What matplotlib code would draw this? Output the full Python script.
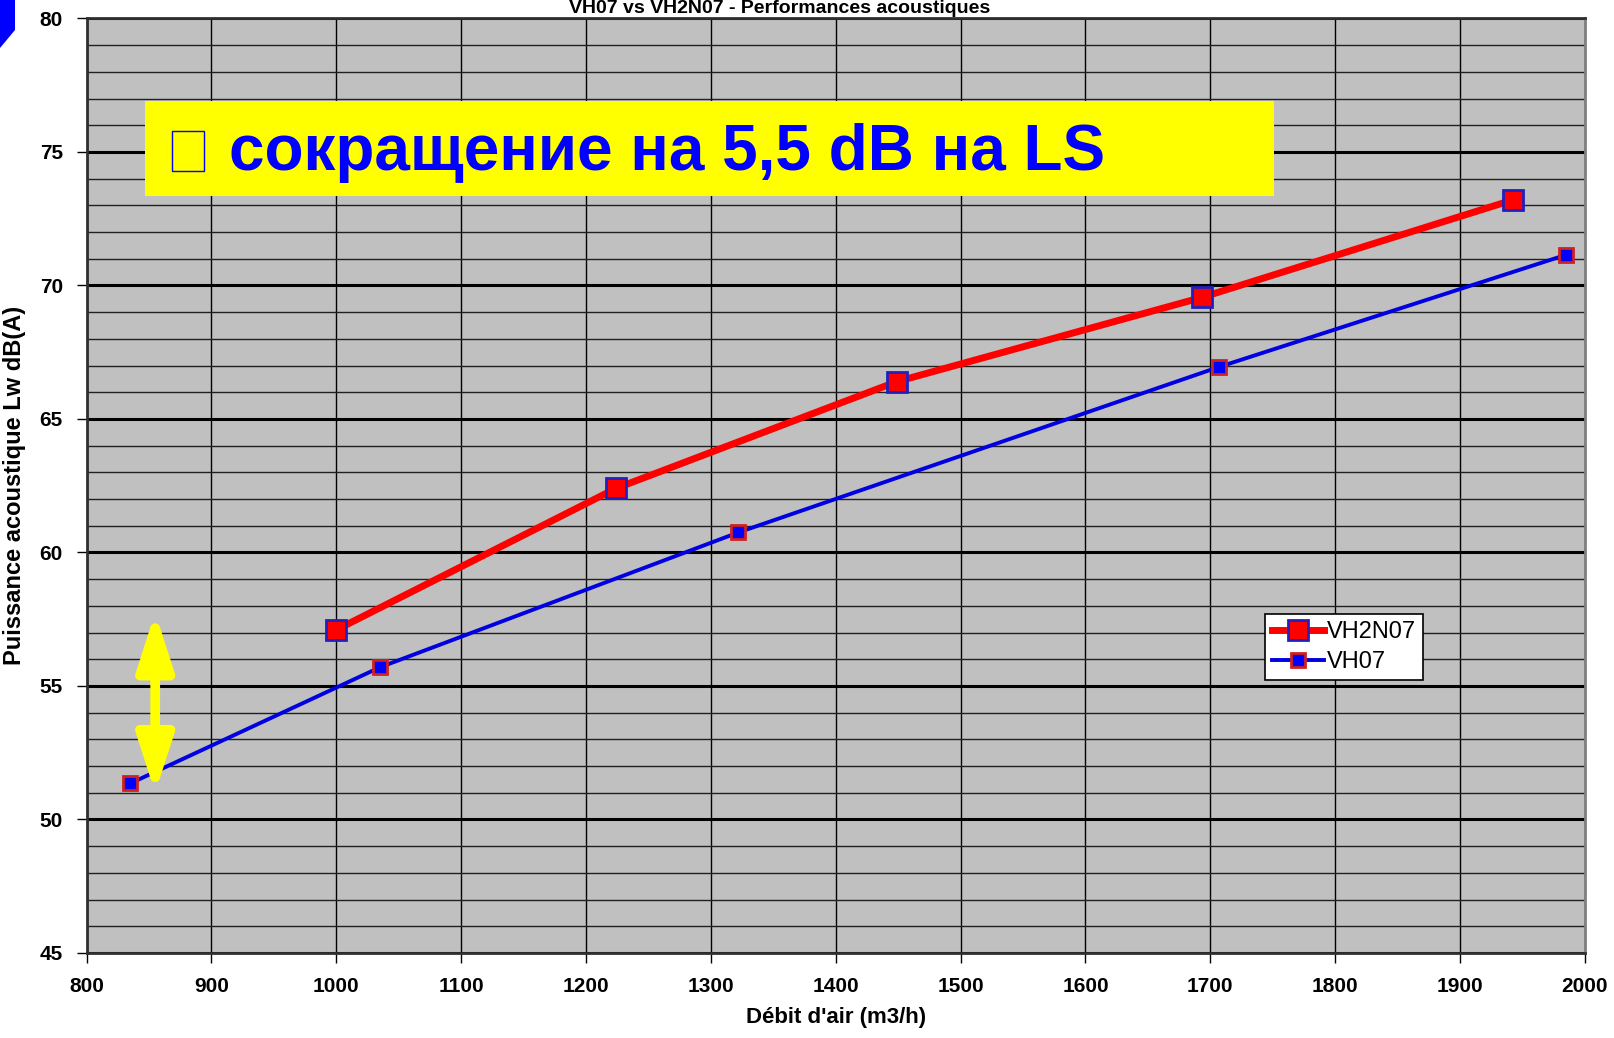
import matplotlib.pyplot as plt
from matplotlib.patches import Rectangle, Polygon
from matplotlib.ticker import MultipleLocator

# values
vh2n07_x = [1000, 1224, 1449, 1693, 1942]
vh2n07_y = [57.1, 62.4, 66.4, 69.55, 73.2]
vh07_x = [835, 1035, 1322, 1707, 1985]
vh07_y = [51.35, 55.7, 60.75, 66.95, 71.15]

x_ticks = list(range(800, 2001, 100))
y_ticks = [45, 50, 55, 60, 65, 70, 75, 80]

plt.rcParams['font.family'] = ['Liberation Sans', 'DejaVu Sans']

fig = plt.figure(figsize=(16.14, 10.38), dpi=100)
ax = fig.add_axes([0.0536, 0.0819, 0.9284, 0.9003])
ax.set_facecolor('#c0c0c0')

ax.set_xlim(800, 2000)
ax.set_ylim(45, 80)
ax.set_xticks(x_ticks)
ax.set_yticks(y_ticks)
ax.yaxis.set_minor_locator(MultipleLocator(1))

ax.grid(which='major', axis='y', color='black', lw=2.2, zorder=1)
ax.grid(which='minor', axis='y', color='#202020', lw=1.0, zorder=1)
ax.grid(which='major', axis='x', color='black', lw=1.0, zorder=1)
ax.set_axisbelow(True)

ax.tick_params(axis='both', which='major', length=7, width=1, direction='out',
               labelsize=15, pad=10)
ax.tick_params(axis='y', which='minor', length=0)
for lbl in ax.get_xticklabels() + ax.get_yticklabels():
    lbl.set_fontweight('bold')

for side in ['top', 'bottom', 'left']:
    ax.spines[side].set_color('#303030')
    ax.spines[side].set_linewidth(2)
ax.spines['right'].set_color('#808080')
ax.spines['right'].set_linewidth(2)

ax.plot(vh2n07_x, vh2n07_y, color='#ff0000', lw=5, marker='s', ms=15,
        mfc='#ff0000', mec='#2020c0', mew=2, label='VH2N07', zorder=4)
ax.plot(vh07_x, vh07_y, color='#0000e0', lw=2.8, marker='s', ms=10,
        mfc='#0000ff', mec='#d02020', mew=2, label='VH07', zorder=3)

leg = ax.legend(loc='upper left', bbox_to_anchor=(0.7865, 0.363), fontsize=17,
                frameon=True, fancybox=False, edgecolor='black', framealpha=1,
                handlelength=2.2, borderpad=0.3, labelspacing=0.35,
                handletextpad=0.1, borderaxespad=0)
leg.get_frame().set_linewidth(1.2)

ax.set_xlabel("Débit d'air (m3/h)", fontsize=16, fontweight='bold', labelpad=8)
ax.set_ylabel('Puissance acoustique Lw dB(A)', fontsize=17, fontweight='bold',
              labelpad=10)

fig.text(0.483, 1.0, 'VH07 vs VH2N07 - Performances acoustiques',
         ha='center', va='top', fontsize=14, fontweight='bold')

# yellow note box
fig.patches.append(Rectangle((145 / 1614, 1 - 196 / 1038), 1129 / 1614, 95 / 1038,
                             transform=fig.transFigure, facecolor='#ffff00',
                             edgecolor='none', zorder=5))
fig.patches.append(Rectangle((172 / 1614, 1 - 171 / 1038), 32 / 1614, 40 / 1038,
                             transform=fig.transFigure, facecolor='none',
                             edgecolor='#0000ff', lw=1, zorder=6))
fig.text(229 / 1614, 1 - 153 / 1038, 'сокращение на 5,5 dB на LS',
         ha='left', va='center', fontsize=46, fontweight='bold',
         color='#0000ff', zorder=7)

# double arrow
ax.annotate('', xy=(855, 57.75), xytext=(855, 51.0),
            arrowprops=dict(arrowstyle='<|-|>,head_length=3.4,head_width=1.1',
                            color='#ffff00', lw=7, shrinkA=0, shrinkB=0),
            zorder=6)

# blue corner shape
fig.patches.append(Polygon([(0, 1), (15 / 1614, 1), (15 / 1614, 1 - 30 / 1038),
                            (0, 1 - 48 / 1038)], closed=True,
                           transform=fig.transFigure, facecolor='#0000ff',
                           edgecolor='none'))

fig.savefig('out.png', dpi=100)
